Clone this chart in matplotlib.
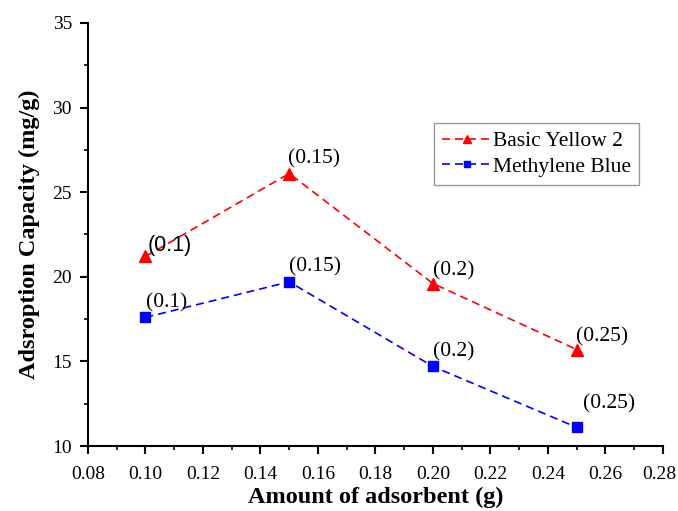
import numpy as np
import matplotlib.pyplot as plt
import matplotlib.transforms as mtransforms
from matplotlib.ticker import MultipleLocator

# Adsorbent dose (g) and capacities (mg/g)
dose = [0.10, 0.15, 0.20, 0.25]
basic_yellow = [21.2, 26.1, 19.6, 15.7]
methylene_blue = [17.6, 19.7, 14.7, 11.1]
labels = ['(0.1)', '(0.15)', '(0.2)', '(0.25)']

plt.rcParams['font.family'] = ['Liberation Serif', 'DejaVu Serif']

fig = plt.figure(figsize=(6.78, 5.11), dpi=100)
ax = fig.add_axes([0.1298, 0.1272, 0.848, 0.828])

ax.plot(dose, basic_yellow, ls='--', color='#ff0000', marker='^', ms=8.5,
        lw=1.2, dashes=(4.8, 3), label='Basic Yellow 2')
ax.plot(dose, methylene_blue, ls='--', color='#0000ff', marker='s', ms=6.5,
        lw=1.2, dashes=(4.8, 3), label='Methylene Blue')

# point labels, offsets in pixels from each point
by_off = [(2, 0), (-1, 5), (0, 3), (-1, 3)]
mb_off = [(1, 5), (0, 5), (0, 5), (6, 14)]
for x, y, t, o in zip(dose, basic_yellow, labels, by_off):
    fam = 'Liberation Sans' if t == '(0.1)' else 'Liberation Serif'
    ax.annotate(t, (x, y), xytext=o, textcoords='offset pixels',
                fontsize=15.5, family=fam, ha='left', va='bottom')
for x, y, t, o in zip(dose, methylene_blue, labels, mb_off):
    ax.annotate(t, (x, y), xytext=o, textcoords='offset pixels',
                fontsize=15.5, ha='left', va='bottom')

ax.set_xlim(0.08, 0.28)
ax.set_ylim(10, 35)
ax.set_xticks(np.arange(0.08, 0.281, 0.02))
ax.xaxis.set_minor_locator(MultipleLocator(0.01))
ax.yaxis.set_major_locator(MultipleLocator(5))
ax.yaxis.set_minor_locator(MultipleLocator(2.5))
ax.xaxis.set_major_formatter(plt.FormatStrFormatter('%.2f'))

for s in ['top', 'right']:
    ax.spines[s].set_visible(False)
for s in ['left', 'bottom']:
    ax.spines[s].set_linewidth(1.5)
ax.tick_params(which='major', direction='out', length=5.5, width=1.5,
               labelsize=14)
ax.tick_params(axis='x', which='major', pad=9)
ax.tick_params(axis='y', which='major', pad=6)
ax.tick_params(which='minor', direction='out', length=3, width=1.2)

# keep the last x tick label inside the figure
fig.canvas.draw()
last = ax.xaxis.get_major_ticks()[-1].label1
last.set_transform(last.get_transform() +
                   mtransforms.ScaledTranslation(-4 / 100, 0, fig.dpi_scale_trans))

ax.set_xlabel('Amount of adsorbent (g)', fontsize=17.5, fontweight='bold',
              labelpad=3)
ax.set_ylabel('Adsroption Capacity (mg/g)', fontsize=17.5, fontweight='bold',
              labelpad=9)

leg = ax.legend(loc='upper left', bbox_to_anchor=(0.601, 0.764), fontsize=15.5,
                fancybox=False, edgecolor='gray', handlelength=2.3,
                handletextpad=0.05, borderpad=0.4, labelspacing=0.25,
                borderaxespad=0, markerscale=0.75)
leg.get_frame().set_linewidth(1)

fig.savefig('out.png', dpi=100)
